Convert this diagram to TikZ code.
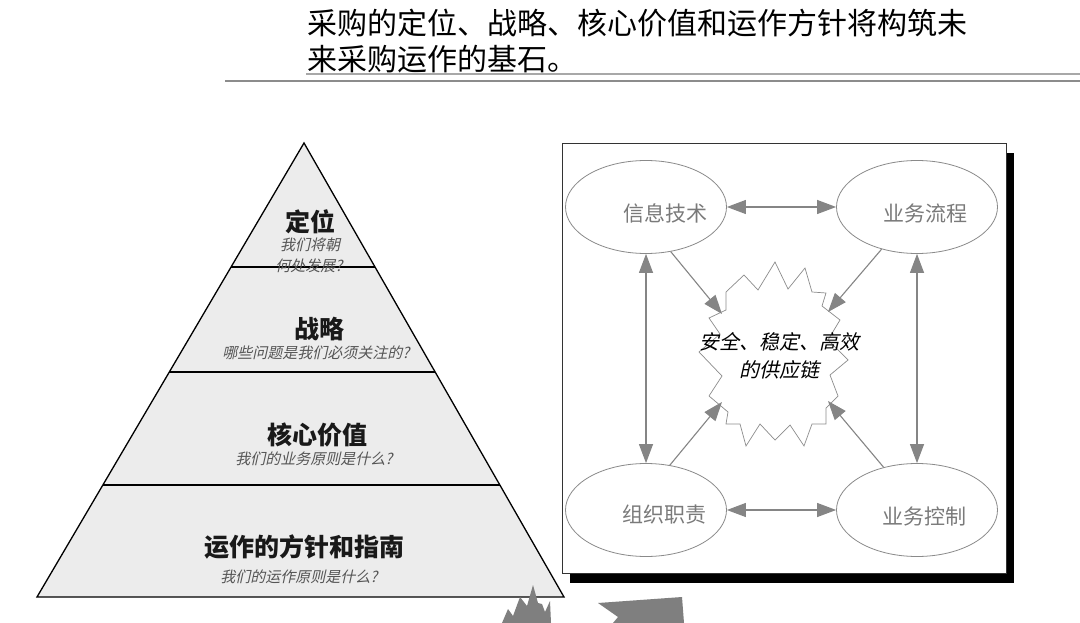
\documentclass[tikz,border=0pt]{standalone}
\usepackage{fontspec}
\setmainfont{Liberation Sans}
\newfontfamily\cjk{Noto Sans CJK SC}
\newfontfamily\cjkit[FakeSlant=0.22]{Noto Sans CJK SC}
\usetikzlibrary{arrows.meta,shapes.geometric,calc}
\definecolor{pyrfill}{HTML}{ECECEC}
\definecolor{elgray}{HTML}{8A8A8A}
\definecolor{txtgray}{HTML}{7A7A7A}
\definecolor{subgray}{HTML}{555555}
\definecolor{arrgray}{HTML}{858585}
\definecolor{ruleA}{HTML}{A8A8A8}
\definecolor{ruleB}{HTML}{8C8C8C}
\definecolor{shapegray}{HTML}{7F7F7F}
\tikzset{
  titletext/.style={anchor=west, inner sep=0pt, font=\cjk\fontsize{30}{32}\selectfont, text=black},
  mainlbl/.style={inner sep=0pt, font=\cjk\bfseries\fontsize{25}{27}\selectfont, text=black!90},
  sublbl/.style={inner sep=0pt, font=\cjkit\fontsize{15}{17}\selectfont, text=subgray},
  ell/.style={ellipse, draw=elgray, line width=0.8pt, minimum width=161pt, minimum height=93pt, inner sep=0pt},
  eltext/.style={inner sep=0pt, font=\cjk\fontsize{21}{23}\selectfont, text=txtgray},
  dblarrow/.style={draw=arrgray, line width=1.1pt, {Triangle[length=19pt,width=14pt]}-{Triangle[length=19pt,width=14pt]}},
  onearrow/.style={draw=arrgray, line width=1.1pt, -{Triangle[length=19pt,width=14pt]}},
  coretext/.style={inner sep=0pt, align=center, font=\cjkit\fontsize{20}{28}\selectfont, text=black}
}
\begin{document}
\begin{tikzpicture}[x=1pt,y=-1pt]
\useasboundingbox (0,0) rectangle (1080,623);
\fill[white] (0,0) rectangle (1080,623);

% title
\node[titletext] (title1) at (307,23) {采购的定位、战略、核心价值和运作方针将构筑未};
\node[titletext] (title2) at (307,59) {来采购运作的基石。};
\draw[ruleA, line width=2pt] (306,74) -- (1080,74);
\draw[ruleB, line width=2pt] (225,81) -- (1080,81);

% pyramid
\coordinate (A) at (304,143);
\coordinate (L) at (37,597);
\coordinate (R) at (564,597);
\draw[fill=pyrfill, line width=1.3pt, line join=miter] (A) -- (R) -- (L) -- cycle;
\draw[line width=1.3pt] ($(A)!0.2731!(L)$) -- ($(A)!0.2731!(R)$);
\draw[line width=1.3pt] ($(A)!0.5044!(L)$) -- ($(A)!0.5044!(R)$);
\draw[line width=1.3pt] ($(A)!0.7533!(L)$) -- ($(A)!0.7533!(R)$);

\node[mainlbl] (p1) at (310,222) {定位};
\node[sublbl] (p1a) at (310,245) {我们将朝};
\node[sublbl] (p1b) at (309,266) {何处发展?};
\node[mainlbl] (p2) at (319,329) {战略};
\node[sublbl] (p2a) at (316,353) {哪些问题是我们必须关注的?};
\node[mainlbl] (p3) at (317,435) {核心价值};
\node[sublbl] (p3a) at (314,459) {我们的业务原则是什么?};
\node[mainlbl] (p4) at (304,547) {运作的方针和指南};
\node[sublbl] (p4a) at (299,577) {我们的运作原则是什么?};

% right box with shadow
\fill[black] (570,153) rectangle (1014,583);
\draw[fill=white, draw=black!80, line width=0.9pt] (562,143) rectangle (1006,573);

% ellipses
\node[ell] (it) at (646,207) {};
\node[ell] (bp) at (917,207) {};
\node[ell] (org) at (646,510) {};
\node[ell] (bc) at (917,510) {};
\node[eltext] (itl) at (665,213) {信息技术};
\node[eltext] (bpl) at (925,213) {业务流程};
\node[eltext] (orgl) at (664,515) {组织职责};
\node[eltext] (bcl) at (924,516) {业务控制};

% starburst
\draw[draw=black!45, line width=0.7pt, line join=miter]
  (726,292) -- (744,275) -- (758,290) -- (775,262) -- (788,289) -- (805,268)
  -- (812,292) -- (826,293) -- (822,306) -- (840,320) -- (828,340) -- (848,360)
  -- (830,375) -- (838,396) -- (826,408) -- (826,424) -- (812,424) -- (804,446)
  -- (790,425) -- (775,440) -- (760,424) -- (746,446) -- (740,424) -- (726,424)
  -- (728,412) -- (709,396) -- (722,376) -- (699,352) -- (720,334) -- (709,318)
  -- (726,310) -- cycle;
\node[coretext] (core) at (779,356) {安全、稳定、高效\\的供应链};

\coordinate (s1) at (722,314);
\coordinate (s2) at (828,312);
\coordinate (s3) at (722,402);
\coordinate (s4) at (828,401);

% connectors
\draw[dblarrow] (it) -- (bp);
\draw[dblarrow] (org) -- (bc);
\draw[dblarrow] (it) -- (org);
\draw[dblarrow] (bp) -- (bc);
\draw[onearrow] (it.-61) -- (s1);
\draw[onearrow] (bp.-130) -- (s2);
\draw[onearrow] (org.62) -- (s3);
\draw[onearrow] (bc.128) -- (s4);

% cut-off shapes at the bottom
\fill[shapegray] (502,623) -- (508,609) -- (513,616) -- (520,597) -- (527,606)
  -- (533,585) -- (538,603) -- (542,604) -- (545,612) -- (550,601) -- (551,623) -- cycle;
\fill[shapegray] (598,603) -- (682,597) -- (684,623) -- (613,623) -- (618,617) -- cycle;
\end{tikzpicture}
\end{document}
